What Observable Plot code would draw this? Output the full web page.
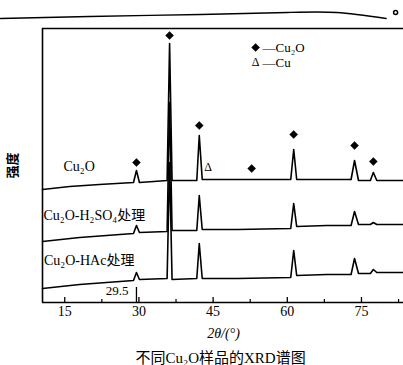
<!DOCTYPE html>
<html><head><meta charset="utf-8">
<script src="https://cdn.jsdelivr.net/npm/d3@7"></script>
<script src="https://cdn.jsdelivr.net/npm/@observablehq/plot@0.6"></script>
<style>body{margin:0;background:#fff} svg{display:block}</style>
</head><body><div id="chart"></div>
<script>
// 2θ (°) and relative intensity (offset stacked)
const seriesCu2O = [[10.5,113],[16,116],[22,118],[28.9,120],[29.5,132],[30.1,120],[33,121],[35.7,122],[36.2,259],[36.7,122],[41.7,122],[42.2,167],[42.8,123],[48,123],[55,123],[60.7,123],[61.3,153],[61.9,123],[68,123],[72.9,123],[73.6,142],[74.4,122],[76.8,122],[77.4,130],[78.1,122],[83.5,122]];
const seriesH2SO4 = [[10.5,61],[18,65],[28.9,69],[29.5,77],[30.1,70],[35.7,71],[36.2,200],[36.7,72],[41.7,72],[42.2,107],[42.8,73],[50,73],[60.7,74],[61.3,99],[61.9,76],[68,77],[72.9,77],[73.6,91],[74.4,78],[76.8,78],[77.4,80],[78.1,78],[83.5,78]];
const seriesHAc = [[10.5,14],[18,18],[28.9,22],[29.5,30],[30.1,23],[35.7,24],[36.2,140],[36.7,23],[41.7,24],[42.2,59],[42.8,24],[50,24],[60.7,25],[61.3,52],[61.9,27],[68,28],[72.9,28],[73.6,44],[74.4,29],[76.8,29],[77.4,33],[78.1,30],[83.5,30]];
const cu2oMarks = [[29.5,140],[36.2,267],[42.2,177],[52.8,134],[61.3,168],[73.6,157],[77.4,141]];
const cuMarks = [[44.0,135]];
const seriesLabels = [
  {x:14.75, y:136, text:"Cu₂O"},
  {x:10.7, y:87, text:"Cu₂O-H₂SO₄处理"},
  {x:10.8, y:42, text:"Cu₂O-HAc处理"}
];
const legendCu2O = {x:53.6, y:255, text:"—Cu₂O"};
const legendCu = {x:53.6, y:240, text:"—Cu"};
const majorTicks = [15,30,45,60,75];
const minorTicks = [22.5,37.5,52.5,67.5,82.5];
const xDomain = [10.5, 83.5];
const scanEdge = [[2,284],[20,286],[42.5,288],[60,290],[70,290],[80,284]];

const rows = (pts, s) => pts.map(([a, i]) => ({angle:a, intensity:i, series:s}));
const curves = [...rows(seriesCu2O,"Cu2O"), ...rows(seriesH2SO4,"H2SO4"), ...rows(seriesHAc,"HAc")];
const font = "'Liberation Serif','Noto Sans CJK SC',serif";

const chart = Plot.plot({
  width:403, height:365,
  marginLeft:42, marginRight:0, marginTop:28, marginBottom:63,
  x:{domain:xDomain}, y:{domain:[0,274], axis:null},
  style:{fontFamily:font, background:"#fff", color:"#000", fontSize:"14px"},
  marks:[
    Plot.axisX({ticks:majorTicks, tickSize:0, tickPadding:4, fontSize:14, label:null}),
    Plot.ruleY([0], {x1:xDomain[0], x2:xDomain[1], stroke:"#000", strokeWidth:1.6}),
    Plot.ruleY([274], {x1:xDomain[0], x2:xDomain[1], stroke:"#000", strokeWidth:1.6}),
    Plot.ruleX([xDomain[0]], {y1:0, y2:274, stroke:"#000", strokeWidth:1.6}),
    Plot.ruleX(majorTicks, {y1:0, y2:5, stroke:"#000", strokeWidth:1.3}),
    Plot.ruleX(minorTicks, {y1:0, y2:3, stroke:"#000", strokeWidth:1.2}),
    Plot.ruleX([29.5], {y1:0, y2:15, stroke:"#000", strokeWidth:1.3}),
    Plot.text(["29.5"], {x:27.9, y:12, textAnchor:"end", fontSize:13}),
    Plot.line(curves, {x:"angle", y:"intensity", z:"series", stroke:"#000", strokeWidth:1.6, strokeLinejoin:"round"}),
    Plot.dot(cu2oMarks, {x:d=>d[0], y:d=>d[1], symbol:"diamond2", r:3.6, fill:"#000", stroke:"#000", strokeWidth:0.5}),
    Plot.text(cuMarks, {x:d=>d[0], y:d=>d[1], text:()=>"Δ", fontSize:12}),
    Plot.text(seriesLabels, {x:"x", y:"y", text:"text", textAnchor:"start", fontSize:14}),
    Plot.dot([legendCu2O], {x:"x", y:"y", symbol:"diamond2", r:3.6, fill:"#000", stroke:"#000", strokeWidth:0.5}),
    Plot.text([legendCu], {x:"x", y:"y", text:()=>"Δ", fontSize:12}),
    Plot.text([legendCu2O, legendCu], {x:d=>d.x+1.4, y:"y", text:"text", textAnchor:"start", fontSize:13}),
    Plot.text(["强度"], {x:4.4, y:137, rotate:-90, fontSize:13, fontWeight:"bold"}),
    Plot.text(["2θ/(°)"], {x:47.1, y:-31, fontSize:14, fontStyle:"italic"}),
    Plot.text(["不同Cu₂O样品的XRD谱图"], {x:46.5, y:-56, fontSize:15}),
    Plot.line(scanEdge, {x:d=>d[0], y:d=>d[1], stroke:"#000", strokeWidth:1.3, curve:"natural"}),
    Plot.dot([[81.9,290]], {x:d=>d[0], y:d=>d[1], r:2, stroke:"#000", fill:"none"})
  ]
});
document.getElementById("chart").append(chart);
</script>
</body></html>
